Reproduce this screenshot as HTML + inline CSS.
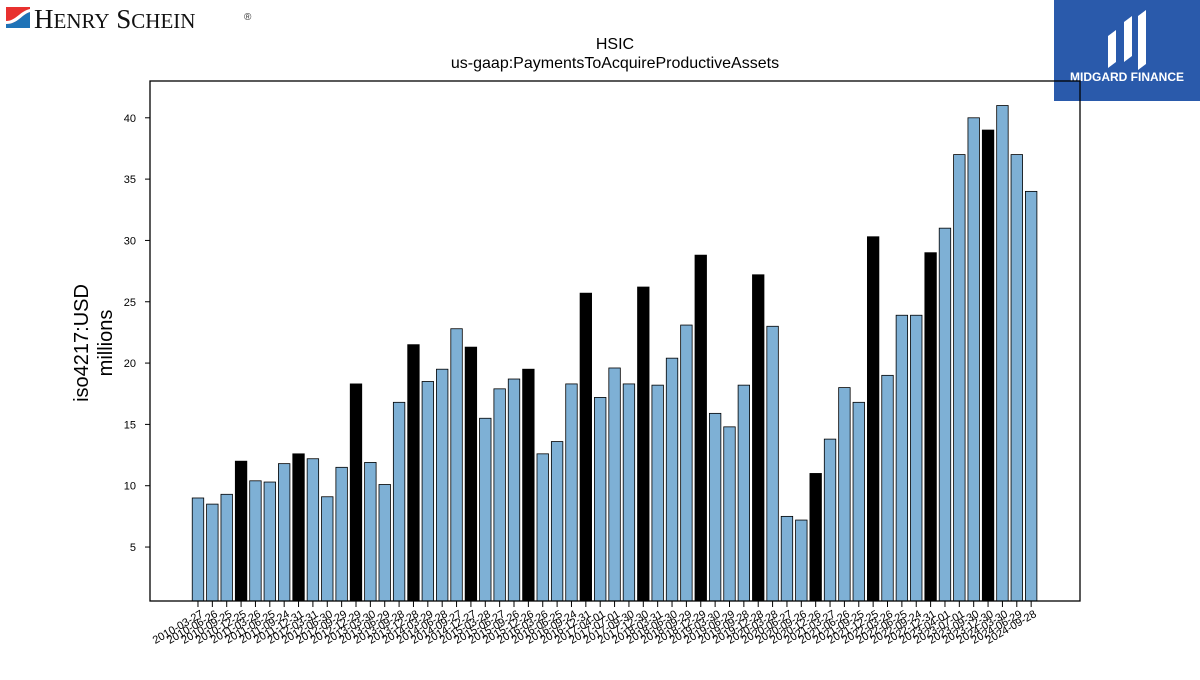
<!DOCTYPE html>
<html><head><meta charset="utf-8"><style>
body{margin:0;background:#fff;width:1200px;height:675px;overflow:hidden;font-family:"Liberation Sans",sans-serif}
</style></head><body>
<svg width="1200" height="675" xmlns="http://www.w3.org/2000/svg">
<g>
<rect x="6" y="7" width="24" height="21" fill="#e8312f"/>
<path d="M6 28 L30 28 L30 12 C22 14 18 24 6 24 Z" fill="#1f73b7"/>
<path d="M6 24 C18 24 22 14 30 12 L30 9 C20 11 16 21 6 21 Z" fill="#fff"/>
<text x="34" y="28" font-family="Liberation Serif" font-size="27" fill="#111">H<tspan font-size="21">ENRY</tspan> S<tspan font-size="21">CHEIN</tspan></text>
<text x="244" y="20" font-size="10" fill="#333">®</text>
</g>
<g>
<rect x="1054" y="0" width="146" height="101" fill="#2a5aab"/>
<path d="M1108 68 L1108 36 L1116 30 L1116 62 Z M1124 62 L1124 22 L1132 16 L1132 56 Z M1138 70 L1138 16 L1146 10 L1146 64 Z" fill="#fff"/>
<text x="1127" y="81" text-anchor="middle" font-size="12" font-weight="bold" fill="#fff">MIDGARD FINANCE</text>
</g>
<text x="615" y="49" text-anchor="middle" font-size="16">HSIC</text>
<text x="615" y="68" text-anchor="middle" font-size="16">us-gaap:PaymentsToAcquireProductiveAssets</text>
<text transform="translate(88,343) rotate(-90)" text-anchor="middle" font-size="20"><tspan x="0" y="0">iso4217:USD</tspan><tspan x="0" y="24">millions</tspan></text>
<g id="bars"></g><g id="yticks"></g><g id="xticks"></g>
<rect x="150" y="81" width="930" height="520" fill="none" stroke="#000" stroke-width="1.3"/>
</svg>
<script>
const dates=["2010-03-27","2010-06-26","2010-09-25","2010-12-25","2011-03-26","2011-06-25","2011-09-24","2011-12-31","2012-03-31","2012-06-30","2012-09-29","2012-12-29","2013-03-30","2013-06-29","2013-09-28","2013-12-28","2014-03-29","2014-06-28","2014-09-27","2014-12-27","2015-03-28","2015-06-27","2015-09-26","2015-12-26","2016-03-26","2016-06-25","2016-09-24","2016-12-31","2017-04-01","2017-07-01","2017-09-30","2017-12-30","2018-03-31","2018-06-30","2018-09-29","2018-12-29","2019-03-30","2019-06-29","2019-09-28","2019-12-28","2020-03-28","2020-06-27","2020-09-26","2020-12-26","2021-03-27","2021-06-26","2021-09-25","2021-12-25","2022-03-26","2022-06-25","2022-09-24","2022-12-31","2023-04-01","2023-07-01","2023-09-30","2023-12-30","2024-03-30","2024-06-29","2024-09-28"];
const values=[9.0,8.5,9.3,12.0,10.4,10.3,11.8,12.6,12.2,9.1,11.5,18.3,11.9,10.1,16.8,21.5,18.5,19.5,22.8,21.3,15.5,17.9,18.7,19.5,12.6,13.6,18.3,25.7,17.2,19.6,18.3,26.2,18.2,20.4,23.1,28.8,15.9,14.8,18.2,27.2,23.0,7.5,7.2,11.0,13.8,18.0,16.8,30.3,19.0,23.9,23.9,29.0,31.0,37.0,40.0,39.0,41.0,37.0,34.0];
const yTicks=[5,10,15,20,25,30,35,40];
const NS="http://www.w3.org/2000/svg";
const X0=150,X1=1080,Y0=601,Y1=81,xmin=-3.34,xmax=61.4,ymin=0.6,ymax=43.0;
const sx=v=>X0+(v-xmin)/(xmax-xmin)*(X1-X0);
const sy=v=>Y0-(v-ymin)/(ymax-ymin)*(Y0-Y1);
function mk(t,a,p){const e=document.createElementNS(NS,t);for(const k in a)e.setAttribute(k,a[k]);p.appendChild(e);return e;}
const gb=document.getElementById('bars'),gx=document.getElementById('xticks'),gy=document.getElementById('yticks');
values.forEach((v,i)=>{
  const x=sx(i-0.4),w=sx(i+0.4)-x,y=sy(v);
  const r=mk('rect',{x:x,y:y,width:w,height:Y0-y,fill:(i%4===3)?'#000':'#7eb0d5',stroke:'#000','stroke-width':0.8},gb);
  
  
  const cx=sx(i);
  const tk=mk('line',{x1:cx,x2:cx,y1:Y0,y2:Y0+6,stroke:'#000','stroke-width':1},gx);
  
  
  const t=mk('text',{x:cx+6,y:Y0+15,'text-anchor':'end','font-size':11,transform:`rotate(-30 ${cx+6} ${Y0+15})`},gx);
  t.textContent=dates[i];
  
  
});
yTicks.forEach(v=>{
  const y=sy(v);
  const l=mk('line',{x1:X0-5,x2:X0,y1:y,y2:y,stroke:'#000','stroke-width':1},gy);
  
  
  const t=mk('text',{x:X0-14,y:y+4,'text-anchor':'end','font-size':11},gy);
  t.textContent=v;
  
  
});
</script>
</body></html>
